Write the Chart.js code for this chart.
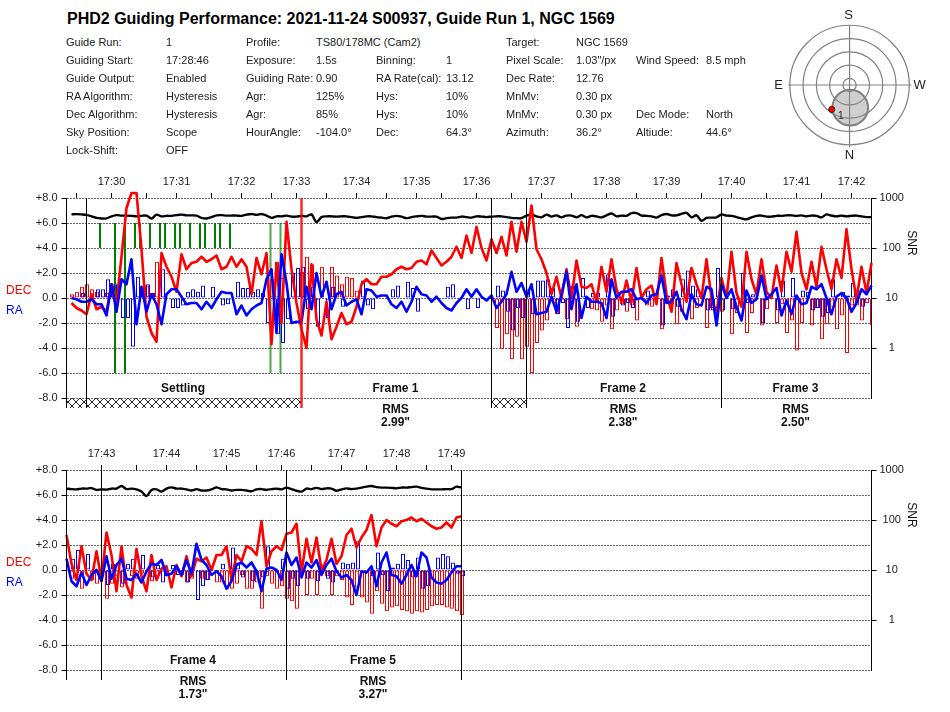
<!DOCTYPE html>
<html>
<head>
<meta charset="utf-8">
<title>PHD2 Guiding Performance</title>
<script src="https://cdn.jsdelivr.net/npm/chart.js@4"></script>
<style>
    html, body { margin: 0; padding: 0; background: #fff; }
    #page { position: relative; width: 950px; height: 712px; overflow: hidden; font-family: "Liberation Sans", Arial, sans-serif; color: #222; }
    #page canvas { position: absolute; }
    .txt { position: absolute; font-size: 11px; line-height: 14px; white-space: nowrap; }
    #title { position: absolute; left: 67px; top: 10px; font-size: 16px; line-height: 18px; font-weight: bold; color: #000; white-space: nowrap; }
</style>
</head>
<body>
<div id="page">
    <div id="title">PHD2 Guiding Performance: 2021-11-24 S00937, Guide Run 1, NGC 1569</div>
    <canvas id="guide1" width="950" height="290" style="left:0;top:150px"></canvas>
    <canvas id="guide2" width="950" height="290" style="left:0;top:422px"></canvas>
    <canvas id="sky" width="170" height="170" style="left:770px;top:0"></canvas>
</div>
<script>
var infoColumns = [
    ["Guide Run:", "Guiding Start:", "Guide Output:", "RA Algorithm:", "Dec Algorithm:", "Sky Position:", "Lock-Shift:"],
    ["1", "17:28:46", "Enabled", "Hysteresis", "Hysteresis", "Scope", "OFF"],
    ["Profile:", "Exposure:", "Guiding Rate:", "Agr:", "Agr:", "HourAngle:"],
    ["TS80/178MC (Cam2)", "1.5s", "0.90", "125%", "85%", "-104.0°"],
    ["", "Binning:", "RA Rate(cal):", "Hys:", "Hys:", "Dec:"],
    ["", "1", "13.12", "10%", "10%", "64.3°"],
    ["Target:", "Pixel Scale:", "Dec Rate:", "MnMv:", "MnMv:", "Azimuth:"],
    ["NGC 1569", "1.03\"/px", "12.76", "0.30 px", "0.30 px", "36.2°"],
    ["", "Wind Speed:", "", "", "Dec Mode:", "Altiude:"],
    ["", "8.5 mph", "", "", "North", "44.6°"]
];
var infoColumnX = [66, 166, 246, 316, 376, 446, 506, 576, 636, 706];

var leftTicks = [8, 6, 4, 2, 0, -2, -4, -6, -8];
var snrTicks = [1000, 100, 10, 1];

var tickIdx1 = [1, 8, 15, 21, 28, 34, 40, 45, 51, 57, 63, 69, 74, 81, 88, 94, 100, 107, 113, 119, 126, 132, 139, 145, 150, 156];
var tickLabels1 = ["", "17:30", "", "17:31", "", "17:32", "", "17:33", "", "17:34", "", "17:35", "", "17:36", "", "17:37", "", "17:38", "", "17:39", "", "17:40", "", "17:41", "", "17:42"];

var decLine1 = [
    -0.4, -0.8, -1.0, -1.3, 0.3, -0.9, -0.7, -1.1, 1.1, -0.4,
    3.3, 7.2, 8.4, 8.4, 3.9, -1.5, -2.8, -3.5, 3.6, 2.5,
    1.7, 0.5, 3.5, 2.3, 2.8, 2.9, 3.3, 2.9, 3.1, 3.4,
    2.3, 2.5, 3.3, 2.5, 3.1, 2.5, 0.3, 3.2, 1.9, 3.6,
    -3.7, 2.8, -2.0, 6.1, 2.3, -0.4, -2.5, -4.0, 2.7, -1.7,
    -3.0, -0.3, -3.3, -2.3, -1.2, -2.1, -1.9, -0.7, 1.1, 1.5,
    1.1, 1.1, 1.7, 1.7, 1.9, 2.3, 2.5, 2.3, 2.4, 2.9,
    3.0, 2.7, 3.8, 3.2, 2.6, 2.9, 3.3, 4.1, 3.2, 5.0,
    3.6, 5.7, 4.0, 3.0, 4.7, 3.6, 4.9, 3.4, 6.1, 3.7,
    6.1, 4.5, 7.4, 3.9, 3.1, 2.0, 0.3, 1.7, 0, 2.3,
    0, 3.0, 0.9, 0.8, 1.1, -0.3, 2.5, 0.5, 3.1, 0.7,
    -0.3, 1.4, -0.3, 2.4, 0, 0.7, 1.0, -0.5, 3.2, 0.3,
    -1.1, 2.8, 1.1, -0.3, 2.4, 1.1, 0, 3.1, 0, -1.2,
    1.6, 0, 3.7, 0.4, -0.7, 3.7, 1.5, 0.3, 3.1, 0.5,
    0, 2.6, 0.5, 3.7, 2.1, 5.3, 2.0, 0.7, 2.9, 0.9,
    4.1, 2.3, 0.7, 3.1, 1.6, 5.5, 2.3, -0.1, 2.5, 0.4,
    2.8
];
var raLine1 = [
    0, -0.1, -0.3, -0.3, -0.1, -0.5, -0.5, -1.4, 1.1, -1.1,
    1.5, 1.1, 3.1, -2.1, 0.9, -1.1, 0.3, -0.5, -2.1, 0.3,
    0.7, 0.7, 0.1, -0.5, -0.4, -0.4, -0.9, -0.3, -0.8, -0.1,
    0.5, 0.4, 0.4, -1.3, -0.6, -1.4, -0.9, -0.6, -0.4, 1.5,
    2.3, -2.8, 3.5, 1.2, -2.0, -1.9, -1.9, 0.9, -0.9, 2.0,
    0.1, 1.3, -0.9, 0.3, 0.5, -0.6, -0.3, -0.1, -1.3, 0.7,
    0.6, 0.1, 0.2, 0.2, -0.5, -0.8, -0.3, -1.1, -0.3, 0.9,
    0.3, 0.2, -0.3, 0.1, -0.4, -0.8, -1.0, -0.4, 0, 0.7,
    0.1, 0.7, 0.1, -0.2, 0.2, -0.8, -0.3, 0.3, 2.1, 0.5,
    1.2, 0.1, 1.1, -1.3, -1.2, -1.1, 0.1, -1.1, 0.3, 2.1,
    -0.9, 1.1, -1.6, 0.1, -0.3, -0.3, -0.4, -1.6, 1.5, 0,
    0.5, 0.5, 0.7, -0.1, 0, -0.4, 0.2, 0.3, 1.8, -0.4,
    -0.3, 0.5, -0.9, -1.7, 0.3, -0.5, -0.6, 0.9, 0.7, -2.2,
    1.1, 0, 0.7, -0.7, -1.8, 0.6, -0.4, -0.1, 1.8, -0.1,
    0.3, 0.8, -1.4, -0.2, -1.3, 0.2, -0.5, -0.4, 0.9, 0.7,
    1.1, 0, -1.3, 0.1, 0.4, 0, -1.1, -0.4, 0.7, 0.3,
    1.0
];
var snrLine1 = [
    470, 475, 470, 460, 430, 400, 390, 390, 430, 455,
    445, 445, 440, 430, 440, 445, 390, 465, 430, 440,
    440, 455, 465, 450, 450, 445, 400, 390, 415, 450,
    455, 445, 445, 445, 440, 465, 480, 460, 480, 445,
    400, 430, 430, 445, 425, 425, 440, 430, 470, 330,
    415, 430, 430, 425, 430, 430, 415, 400, 415, 430,
    430, 415, 405, 395, 425, 440, 425, 395, 415, 430,
    440, 425, 425, 425, 380, 395, 405, 405, 425, 415,
    405, 430, 425, 415, 425, 430, 430, 415, 400, 395,
    395, 445, 465, 430, 410, 465, 425, 450, 410, 445,
    445, 410, 455, 410, 440, 430, 410, 450, 490, 430,
    445, 440, 500, 500, 445, 440, 430, 405, 455, 480,
    450, 450, 480, 505, 410, 450, 350, 400, 405, 410,
    470, 445, 440, 415, 390, 375, 410, 440, 445, 425,
    425, 440, 440, 450, 450, 440, 450, 430, 445, 440,
    410, 470, 445, 430, 445, 430, 440, 445, 430, 415,
    415
];
var decBars1 = [
    0.3, 0.5, 0.9, 1.1, 0.7, 0.5, 0, 0.4, 1.0, 0,
    0, 0, 0, 0, 0.9, 1.0, 0.4, 2.9, 0, 0,
    0, 0, 0, 0, 0, 0, 0, 0, 0, 0,
    0, 0, 0, 0, 0, 0, 0, 0, 0, 0,
    1.5, 2.9, 1.6, 0, 0, 0, 2.1, 3.3, 2.7, 0,
    2.5, 0, 2.5, 1.8, 1.1, 1.7, 1.6, 0.6, 0, 0,
    0, 0, 0, 0, 0, 0, 0, 0, 0, 0,
    0, 0, 0, 0, 0, 0, 0, 0, 0, 0,
    0, 0, 0, 0, 0, -2.4, -4.1, -2.9, -4.9, -3.1,
    -4.9, -3.9, -6.0, -3.6, -2.6, -1.8, 0, -1.3, 0, -1.7,
    0, -2.3, 0, 0, -0.9, -1.0, -1.9, -0.6, -2.5, -1.0,
    -0.5, -1.1, -0.6, -1.8, 0, -0.6, -0.7, 0, -2.5, 0,
    -0.5, -2.1, -1.1, 0, -1.7, -0.8, 0, -2.4, -0.8, 0,
    -1.1, 0, -2.9, -1.2, 0, -2.8, -1.2, 0, -2.2, -0.9,
    0, -2.0, -0.5, -2.8, -1.8, -4.2, -2.0, 0, -2.2, -0.8,
    -3.3, -2.1, -0.7, -2.5, -1.4, -4.4, -0.6, -0.6, -1.8, -0.4,
    -2.2
];
var raBars1 = [
    0, 0, 0.4, 0, 0, 0.7, 0.7, 1.5, 1.1, 1.1,
    -1.6, -1.6, -3.9, 1.7, 0.7, 1.1, 0.4, 0, 2.3, 0,
    -0.8, -0.8, -0.6, 0.5, 0.7, 0.5, 1.0, 0, 0.9, 0,
    -0.6, -0.5, 0, 1.3, 0.8, 0.8, 0.5, 0.7, 0.4, -2.0,
    0, -2.9, -3.6, -1.7, 2.0, 2.4, 2.5, -0.9, 0.9, -2.3,
    0, -1.6, 0.9, 0, -0.7, 0, 0, 0, 1.4, -0.6,
    -0.9, 0, 0, 0, 0.7, 1.0, 0, 1.3, 0.8, -1.1,
    0, 0, 0, 0, 0, 0.9, 1.1, 0, 0, -0.9,
    0, -0.8, 0, 0, 0, 1.0, 0.6, -1.1, -2.6, -0.8,
    -1.6, 0.7, -1.3, 1.4, 1.4, 1.5, 0.8, -1.3, -0.4, -2.4,
    1.0, -1.9, 1.6, -0.8, 0.4, 0.4, 0, 1.9, -1.5, 0,
    -0.6, -0.4, -0.8, 0, 0, 0.6, 0, 0, -2.2, 0.2,
    0.7, -0.7, 1.5, 2.2, 1.0, 0.7, 0, -1.0, -1.0, 2.4,
    -1.0, 0, -0.9, 0, 2.0, -0.4, 0.3, 0, -2.0, 0,
    0, -1.0, 1.4, 0, 1.6, 0, 0.6, 0.5, -1.0, -0.8,
    -1.5, -1.2, 1.5, 0, 0.5, 0.2, 1.2, 0.6, -0.7, 0,
    -1.2
];
// settling markers: sample position, lower end, upper end
var markerPos = [5.7, 8.7, 10.7, 12.7, 13.7, 15.7, 17.7, 18.7, 20.7, 21.7, 23.7, 25.7, 26.7, 28.7, 29.7, 31.7, 39.8, 41.8];
var markerLow = [4, -6, -6, 4, 4, 4, 4, 4, 4, 4, 4, 4, 4, 4, 4, 4, -6, -6];
var markerHigh = [6, 6, 6, 6, 6, 6, 6, 6, 6, 6, 6, 6, 6, 6, 6, 6, 6, 6];

var frameStart1 = [-1, 46, 91, 130];
var frameEnd1 = [46, 84, 130, 160];
var frameNames1 = ["Settling", "Frame 1", "Frame 2", "Frame 3"];
var frameRms1 = ["", "2.99\"", "2.38\"", "2.50\""];
var frameLines1 = [-1, 3, 84, 91, 130];
var redLines1 = [46];
var hatchStart1 = [-1, 84];
var hatchEnd1 = [46, 91];

var tickIdx2 = [7, 14, 20, 26, 32, 38, 43, 49, 55, 60, 66, 72, 77];
var tickLabels2 = ["17:43", "", "17:44", "", "17:45", "", "17:46", "", "17:47", "", "17:48", "", "17:49"];

var decLine2 = [
    2.8, 0.5, -0.8, 1.9, -0.3, -0.8, 1.5, -0.8, 3.0, 1.2,
    -1.7, 1.9, -1.2, -2.2, 1.7, -0.5, -1.7, 1.2, -0.8, 0.1,
    0.3, -1.4, 0.4, -0.5, 1.1, -0.5, 0.9, 0.7, 1.0, 0,
    1.2, 1.2, 1.9, -0.7, 1.2, 0.7, 1.9, 1.7, 1.2, 3.9,
    0.3, 1.5, 1.9, 1.6, 2.9, 3.0, 3.7, -0.2, 2.5, 0.6,
    2.6, 0, 0.8, 2.5, 0.5, 1.1, 2.8, 3.3, 1.8, 2.6,
    3.2, 4.4, 1.9, 3.4, 4.0, 3.7, 3.5, 3.9, 4.0, 4.2,
    3.9, 4.1, 3.8, 3.5, 3.3, 3.4, 3.8, 3.4, 4.2, 4.3
];
var raLine2 = [
    0.9, -0.9, -1.3, -0.2, -1.2, -0.4, 0, -0.9, 1.1, -0.7,
    0.4, 0.9, -0.7, -0.8, -0.3, -1.0, -0.1, 0.5, 0.4, 0.8,
    -0.4, -0.3, 0.3, -0.4, 0.8, -0.3, 2.1, 0.8, 0.4, -0.4,
    -0.1, -0.5, -1.5, -0.9, 0.4, 0.6, 0.2, 0.6, -0.1, -1.7,
    0.1, 0.2, 0, -0.8, 1.4, 0.4, 1.0, -0.6, 0.6, 0.2,
    0.8, -0.4, 0.4, 0.9, -0.1, -0.6, -0.4, -0.8, -2.0, -0.1,
    -0.2, 0.3, -1.3, 0.6, 1.4, -0.4, -0.5, -1.1, -0.4, 0.4,
    -0.5, 1.4, 1.0, -0.6, -1.0, -1.1, -0.8, -0.2, 0.3, 0.3
];
var snrLine2 = [
    425, 415, 410, 425, 425, 435, 400, 410, 405, 425,
    425, 480, 415, 425, 410, 370, 300, 400, 410, 370,
    425, 450, 425, 425, 410, 390, 415, 390, 390, 410,
    450, 415, 410, 390, 400, 400, 390, 375, 410, 415,
    400, 415, 425, 410, 445, 415, 385, 370, 425, 415,
    440, 415, 430, 425, 385, 410, 430, 415, 425, 445,
    465, 480, 455, 445, 445, 440, 430, 445, 445, 455,
    465, 440, 425, 410, 410, 410, 415, 415, 465, 445
];
var decBars2 = [
    0, -0.7, 0, -1.5, 0, -0.8, -1.1, 0, -2.3, -1.1,
    -0.5, -1.4, 0, -0.5, -0.7, -0.3, 0, -0.9, -0.7, 0,
    -0.5, 0, 0, -0.4, -1.0, -0.7, 0, -0.7, -0.8, 0,
    -1.0, -1.0, -1.5, -1.5, -1.1, -0.4, -1.5, -1.5, -1.0, -3.1,
    -0.5, -1.1, -1.5, -1.3, -2.3, -2.5, -3.1, 0, -2.0, -0.7,
    -2.0, -0.3, -0.5, -2.0, -0.5, -0.8, -2.2, -2.8, -1.4, -2.2,
    -2.6, -3.5, -1.7, -2.7, -3.3, -3.0, -2.9, -3.2, -3.3, -3.5,
    -3.3, -3.4, -3.2, -2.9, -2.8, -2.8, -3.0, -3.1, -3.3, -3.6
];
var raBars2 = [
    0, 0.9, 1.6, 0, 1.3, 0, 0, 0, -1.2, 0.5,
    0, -1.1, 0.5, 0.9, 0, 1.2, 0, -0.6, 0.4, -1.0,
    0, 0.4, -0.4, 0, -1.0, 0.2, -2.4, -1.3, -0.8, 0,
    0, 0.5, 0, 1.8, 0.6, -0.6, 0, -0.9, 0, -0.6,
    1.9, 0, 0, 0.9, -1.5, -0.7, -1.3, 0, -0.7, 0,
    -0.9, 0.3, -0.7, -1.0, 0, 0.6, 0.5, 0.6, 2.3, 0,
    0, -0.5, 1.4, -0.4, -1.7, 0.2, 0.5, 1.3, 0.8, -0.6,
    1.0, -1.5, -1.3, 0, 1.0, 1.3, 1.1, 0.6, -0.3, -0.5
];

var frameStart2 = [7, 44];
var frameEnd2 = [44, 79];
var frameNames2 = ["Frame 4", "Frame 5"];
var frameRms2 = ["1.73\"", "3.27\""];
var frameLines2 = [0, 7, 44, 79];

// sky view, degrees from the zenith; north is down, east is left
var skyRings = [10, 30, 50, 70, 90];
var skyRegionX = [1];
var skyRegionY = [-34];
var skyStarX = [-26.8];
var skyStarY = [-36.6];
var skyStarLabels = ["1"];
var skyCompass = ["S", "N", "E", "W"];

var page = document.getElementById('page');
infoColumns.forEach(function (column, c) {
    column.forEach(function (text, row) {
        if (!text) {
            return;
        }
        var el = document.createElement('div');
        el.className = 'txt';
        el.style.left = infoColumnX[c] + 'px';
        el.style.top = (35 + row * 18) + 'px';
        el.textContent = text;
        page.appendChild(el);
    });
});

function points(values, shift) {
    return values.map(function (v, i) {
        return { x: i + shift, y: v };
    });
}

function hatchPattern() {
    var tile = document.createElement('canvas');
    tile.width = 8;
    tile.height = 8;
    var t = tile.getContext('2d');
    t.strokeStyle = '#222';
    t.lineWidth = 1;
    t.beginPath();
    t.moveTo(0, 0);
    t.lineTo(8, 8);
    t.moveTo(8, 0);
    t.lineTo(0, 8);
    t.stroke();
    return tile;
}

var framePlugin = {
    id: 'frames',
    afterDatasetsDraw: function (chart) {
        var o = chart.options.plugins.frames;
        var ctx = chart.ctx;
        var x = chart.scales.x;
        var area = chart.chartArea;
        var zero = chart.scales.y.getPixelForValue(0);
        ctx.save();

        ctx.fillStyle = ctx.createPattern(hatchPattern(), 'repeat');
        (o.hatchStart || []).forEach(function (s, i) {
            var x0 = x.getPixelForValue(s);
            ctx.fillRect(x0, area.bottom, x.getPixelForValue(o.hatchEnd[i]) - x0, 10);
        });

        ctx.strokeStyle = '#000';
        ctx.lineWidth = 1;
        o.lines.forEach(function (v) {
            var px = Math.floor(x.getPixelForValue(v)) + 0.5;
            ctx.beginPath();
            ctx.moveTo(px, area.top);
            ctx.lineTo(px, area.bottom + 10);
            ctx.stroke();
        });
        ctx.strokeStyle = 'rgba(255,0,0,0.85)';
        ctx.lineWidth = 2.5;
        (o.redLines || []).forEach(function (v) {
            var px = x.getPixelForValue(v);
            ctx.beginPath();
            ctx.moveTo(px, area.top);
            ctx.lineTo(px, area.bottom + 10);
            ctx.stroke();
        });

        ctx.fillStyle = '#111';
        ctx.font = 'bold 12px "Liberation Sans"';
        ctx.textAlign = 'center';
        ctx.textBaseline = 'middle';
        o.names.forEach(function (name, i) {
            var mid = (x.getPixelForValue(o.start[i]) + x.getPixelForValue(o.end[i])) / 2 - 1;
            ctx.fillText(name, mid, area.bottom - 9);
            if (o.rms[i]) {
                ctx.fillText('RMS', mid, area.bottom + 11.5);
                ctx.fillText(o.rms[i], mid, area.bottom + 24.5);
            }
        });

        ctx.font = '12px "Liberation Sans"';
        ctx.textAlign = 'left';
        ctx.fillStyle = '#f00';
        ctx.fillText('DEC', 6, zero - 7.5);
        ctx.fillStyle = '#00f';
        ctx.fillText('RA', 6, zero + 13);

        ctx.fillStyle = '#111';
        ctx.translate(911, zero - 55);
        ctx.rotate(Math.PI / 2);
        ctx.textAlign = 'center';
        ctx.fillText('SNR', 0, 0);
        ctx.restore();
    }
};

function guideChart(id, xMin, cfg) {
    var datasets = [];
    if (cfg.markerPos) {
        datasets.push({
            type: 'bar',
            data: cfg.markerPos.map(function (p, i) {
                return { x: p, y: [cfg.markerLow[i], cfg.markerHigh[i]] };
            }),
            backgroundColor: cfg.markerPos.map(function (p, i) {
                return i < 16 ? '#008000' : 'rgba(0,128,0,0.7)';
            }),
            borderWidth: 0,
            inflateAmount: 0,
            barThickness: 2,
            grouped: false,
            order: 6
        });
    }
    datasets.push({
        type: 'bar',
        data: points(cfg.decBars, 0.1),
        backgroundColor: 'rgba(0,0,0,0)',
        borderColor: '#f00',
        borderWidth: 1,
        borderSkipped: false,
        inflateAmount: 0,
        barThickness: 4,
        grouped: false,
        order: 5
    });
    datasets.push({
        type: 'bar',
        data: points(cfg.raBars, 0.3),
        backgroundColor: 'rgba(0,0,0,0)',
        borderColor: '#00f',
        borderWidth: 1,
        borderSkipped: false,
        inflateAmount: 0,
        barThickness: 4,
        grouped: false,
        order: 4
    });
    datasets.push({
        type: 'line',
        data: points(cfg.snr, 0),
        yAxisID: 'y2',
        borderColor: '#000',
        borderWidth: 2.4,
        borderJoinStyle: 'round',
        pointRadius: 0,
        tension: 0.3,
        clip: false,
        order: 3
    });
    datasets.push({
        type: 'line',
        data: points(cfg.dec, 0),
        borderColor: '#f00',
        borderWidth: 2.6,
        borderJoinStyle: 'round',
        pointRadius: 0,
        clip: false,
        order: 2
    });
    datasets.push({
        type: 'line',
        data: points(cfg.ra, 0),
        borderColor: '#00f',
        borderWidth: 2.6,
        borderJoinStyle: 'round',
        pointRadius: 0,
        clip: false,
        order: 1
    });

    return new Chart(document.getElementById(id), {
        data: { datasets: datasets },
        plugins: [framePlugin],
        options: {
            responsive: false,
            animation: false,
            events: [],
            layout: { padding: { bottom: 42 } },
            plugins: {
                legend: { display: false },
                tooltip: { enabled: false },
                frames: {
                    start: cfg.start,
                    end: cfg.end,
                    names: cfg.names,
                    rms: cfg.rms,
                    lines: cfg.lines,
                    redLines: cfg.redLines,
                    hatchStart: cfg.hatchStart,
                    hatchEnd: cfg.hatchEnd
                }
            },
            scales: {
                x: {
                    type: 'linear',
                    position: 'top',
                    min: xMin,
                    max: xMin + 161,
                    offset: false,
                    border: { display: false },
                    grid: { drawOnChartArea: false, tickLength: 5, tickColor: '#000', offset: false },
                    ticks: {
                        autoSkip: false,
                        maxRotation: 0,
                        padding: 4,
                        color: '#222',
                        font: { family: 'Liberation Sans', size: 11 },
                        callback: function (v) {
                            var at = cfg.tickIdx.indexOf(v);
                            return at < 0 ? '' : cfg.tickLabels[at];
                        }
                    },
                    afterBuildTicks: function (scale) {
                        scale.ticks = cfg.tickIdx.map(function (v) {
                            return { value: v };
                        });
                    },
                    afterFit: function (scale) {
                        scale.height = 48;
                    }
                },
                y: {
                    type: 'linear',
                    position: 'left',
                    min: -8,
                    max: 8,
                    border: { display: false, dash: [2, 1] },
                    grid: { color: '#666', lineWidth: 1, tickLength: 5, tickColor: '#000' },
                    ticks: {
                        padding: 4,
                        color: '#222',
                        font: { family: 'Liberation Sans', size: 11 },
                        callback: function (v) {
                            return v > 0 ? '+' + v.toFixed(1) : v.toFixed(1);
                        }
                    },
                    afterBuildTicks: function (scale) {
                        scale.ticks = leftTicks.map(function (v) {
                            return { value: v };
                        });
                    },
                    afterFit: function (scale) {
                        scale.width = 66.5;
                    }
                },
                y2: {
                    type: 'logarithmic',
                    position: 'right',
                    min: 0.1,
                    max: 1000,
                    border: { display: true, color: '#000' },
                    grid: { drawOnChartArea: false, tickLength: 5, tickColor: '#000' },
                    ticks: {
                        autoSkip: false,
                        crossAlign: 'center',
                        padding: 3,
                        color: '#222',
                        font: { family: 'Liberation Sans', size: 11 },
                        callback: function (v) {
                            return String(v);
                        }
                    },
                    afterBuildTicks: function (scale) {
                        scale.ticks = snrTicks.map(function (v) {
                            return { value: v };
                        });
                    },
                    afterFit: function (scale) {
                        scale.width = 78.5;
                    }
                }
            }
        }
    });
}

guideChart('guide1', -1, {
    tickIdx: tickIdx1,
    tickLabels: tickLabels1,
    dec: decLine1,
    ra: raLine1,
    snr: snrLine1,
    decBars: decBars1,
    raBars: raBars1,
    markerPos: markerPos,
    markerLow: markerLow,
    markerHigh: markerHigh,
    start: frameStart1,
    end: frameEnd1,
    names: frameNames1,
    rms: frameRms1,
    lines: frameLines1,
    redLines: redLines1,
    hatchStart: hatchStart1,
    hatchEnd: hatchEnd1
});

guideChart('guide2', 0, {
    tickIdx: tickIdx2,
    tickLabels: tickLabels2,
    dec: decLine2,
    ra: raLine2,
    snr: snrLine2,
    decBars: decBars2,
    raBars: raBars2,
    start: frameStart2,
    end: frameEnd2,
    names: frameNames2,
    rms: frameRms2,
    lines: frameLines2
});

var skyPlugin = {
    id: 'skyRings',
    beforeDatasetsDraw: function (chart) {
        var ctx = chart.ctx;
        var x = chart.scales.x;
        var y = chart.scales.y;
        var cx = x.getPixelForValue(0);
        var cy = y.getPixelForValue(0);
        ctx.save();
        ctx.strokeStyle = '#808080';
        ctx.lineWidth = 1.2;
        skyRings.forEach(function (r) {
            ctx.beginPath();
            ctx.arc(cx, cy, x.getPixelForValue(r) - cx, 0, Math.PI * 2);
            ctx.stroke();
        });
        ctx.beginPath();
        ctx.moveTo(x.getPixelForValue(-93), cy);
        ctx.lineTo(x.getPixelForValue(93), cy);
        ctx.moveTo(cx, y.getPixelForValue(90));
        ctx.lineTo(cx, y.getPixelForValue(-93));
        ctx.stroke();
        ctx.restore();
    },
    afterDatasetsDraw: function (chart) {
        var ctx = chart.ctx;
        var x = chart.scales.x;
        var y = chart.scales.y;
        var cx = x.getPixelForValue(0);
        var cy = y.getPixelForValue(0);
        ctx.save();
        ctx.textAlign = 'center';
        ctx.textBaseline = 'middle';
        ctx.fillStyle = '#222';
        ctx.font = '13px "Liberation Sans"';
        ctx.fillText(skyCompass[0], cx - 1, cy - 70);
        ctx.fillText(skyCompass[1], cx, cy + 70);
        ctx.fillText(skyCompass[2], cx - 71, cy);
        ctx.fillText(skyCompass[3], cx + 70, cy);
        ctx.font = '11px "Liberation Sans"';
        ctx.fillStyle = '#333';
        ctx.fillText(skyStarLabels[0], x.getPixelForValue(skyStarX[0]) + 9, y.getPixelForValue(skyStarY[0]) + 7);
        ctx.restore();
    }
};

new Chart(document.getElementById('sky'), {
    type: 'scatter',
    data: {
        datasets: [{
            data: [{ x: skyRegionX[0], y: skyRegionY[0] }],
            pointRadius: 17.8,
            backgroundColor: 'rgba(140,140,140,0.42)',
            borderColor: '#808080',
            borderWidth: 2,
            order: 2
        }, {
            data: [{ x: skyStarX[0], y: skyStarY[0] }],
            pointRadius: 3,
            backgroundColor: '#f00',
            borderColor: '#400',
            borderWidth: 1,
            order: 1
        }]
    },
    plugins: [skyPlugin],
    options: {
        responsive: false,
        animation: false,
        events: [],
        layout: { padding: { left: 19.3, right: 30.7, top: 25, bottom: 25 } },
        plugins: { legend: { display: false }, tooltip: { enabled: false } },
        scales: {
            x: { display: false, min: -90, max: 90 },
            y: { display: false, min: -90, max: 90 }
        }
    }
});
</script>
</body>
</html>
